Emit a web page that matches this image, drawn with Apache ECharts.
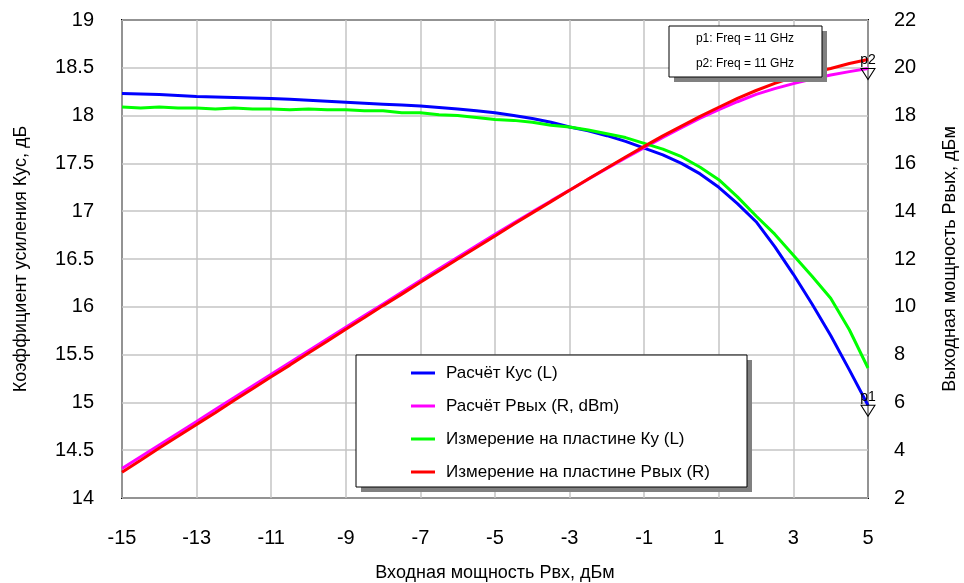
<!DOCTYPE html>
<html>
<head>
<meta charset="utf-8">
<script src="https://cdn.jsdelivr.net/npm/echarts@6/dist/echarts.min.js"></script>
<style>
  html, body { margin: 0; padding: 0; background: #fff; }
  #chart { width: 964px; height: 583px; }
</style>
</head>
<body>
<div id="chart"></div>
<script>
// input power, dBm
const pIn = [-15, -14.5, -14, -13.5, -13, -12.5, -12, -11.5, -11, -10.5, -10, -9.5, -9, -8.5, -8, -7.5, -7, -6.5, -6, -5.5,
  -5, -4.5, -4, -3.5, -3, -2.5, -2, -1.5, -1, -0.5, 0, 0.5, 1, 1.5, 2, 2.5, 3, 3.5, 4, 4.5, 5];

// calculated gain (left axis)
const kCalc = [18.23, 18.225, 18.22, 18.21, 18.2, 18.195, 18.19, 18.185, 18.18, 18.17, 18.16, 18.15, 18.14, 18.13, 18.12, 18.11, 18.1, 18.085, 18.07, 18.05,
  18.03, 18.0, 17.97, 17.93, 17.88, 17.84, 17.79, 17.73, 17.66, 17.59, 17.5, 17.39, 17.25, 17.08, 16.89, 16.63, 16.34, 16.03, 15.7, 15.34, 14.97];

// calculated output power (right axis)
const pCalc = [3.23, 3.73, 4.22, 4.71, 5.2, 5.7, 6.19, 6.69, 7.18, 7.67, 8.16, 8.65, 9.14, 9.63, 10.12, 10.61, 11.1, 11.59, 12.07, 12.55,
  13.03, 13.5, 13.97, 14.43, 14.88, 15.34, 15.79, 16.23, 16.66, 17.09, 17.5, 17.89, 18.25, 18.58, 18.89, 19.13, 19.34, 19.53, 19.7, 19.84, 19.97];

// measured gain (left axis)
const kMeas = [18.09, 18.08, 18.09, 18.08, 18.08, 18.07, 18.08, 18.07, 18.07, 18.06, 18.07, 18.06, 18.06, 18.05, 18.05, 18.03, 18.03, 18.01, 18.0, 17.98,
  17.96, 17.95, 17.93, 17.9, 17.88, 17.85, 17.81, 17.77, 17.71, 17.65, 17.57, 17.46, 17.33, 17.15, 16.95, 16.76, 16.54, 16.32, 16.09, 15.76, 15.36];

// measured output power (right axis)
const pMeas = [3.08, 3.58, 4.09, 4.58, 5.08, 5.57, 6.08, 6.57, 7.07, 7.56, 8.07, 8.56, 9.06, 9.55, 10.05, 10.53, 11.03, 11.51, 12.0, 12.48,
  12.96, 13.45, 13.93, 14.4, 14.88, 15.35, 15.81, 16.27, 16.71, 17.15, 17.56, 17.97, 18.35, 18.72, 19.05, 19.35, 19.6, 19.8, 19.97, 20.18, 20.35];

const names = [
  'Расчёт Кус (L)',
  'Расчёт Рвых (R, dBm)',
  'Измерение на пластине Ку (L)',
  'Измерение на пластине Рвых (R)',
];
const colors = ['#0000ff', '#ff00ff', '#00ff00', '#ff0000'];
const markerText = ['p1: Freq = 11 GHz', 'p2: Freq = 11 GHz'];

const font = "'Liberation Sans', Arial, sans-serif";
const last = pIn.length - 1;

const marker = (label, value) => ({
  symbol: 'path://M0,0 L14,0 L7,11 Z',
  symbolSize: [14, 11],
  symbolOffset: [0, '50%'],
  itemStyle: {
    color: 'rgba(255,255,255,0)',
    borderColor: '#000',
    borderWidth: 1,
  },
  label: {
    show: true,
    position: 'top',
    distance: 1,
    formatter: label,
    color: '#000',
    fontSize: 14,
    fontFamily: font,
  },
  data: [{ coord: [last, value] }],
});

const lineSeries = (i, data, yIdx) => ({
  name: names[i],
  type: 'line',
  yAxisIndex: yIdx,
  data,
  showSymbol: false,
  symbol: 'none',
  color: colors[i],
  lineStyle: { color: colors[i], width: 3 },
  z: 3,
});

const option = {
  animation: false,
  backgroundColor: '#fff',
  textStyle: { fontFamily: font },
  grid: {
    left: 122,
    right: 96,
    top: 20,
    bottom: 85,
    outerBoundsMode: 'none',
    show: true,
    borderColor: '#000',
    borderWidth: 2,
    backgroundColor: 'transparent',
  },
  xAxis: {
    type: 'category',
    data: pIn,
    boundaryGap: false,
    name: 'Входная мощность Рвх, дБм',
    nameLocation: 'middle',
    nameGap: 66,
    nameTextStyle: { fontSize: 18, color: '#000', fontFamily: font },
    axisLine: { show: false },
    axisTick: { show: false },
    axisLabel: { interval: 3, margin: 30, fontSize: 20, color: '#000', fontFamily: font },
    splitLine: { show: true, interval: 3, lineStyle: { color: '#c4c4c4', width: 1.5 } },
  },
  yAxis: [
    {
      type: 'value',
      min: 14,
      max: 19,
      interval: 0.5,
      name: 'Коэффициент усиления Кус, дБ',
      nameLocation: 'middle',
      nameRotate: 90,
      nameGap: 92,
      nameTextStyle: { fontSize: 18, color: '#000', fontFamily: font },
      axisLine: { show: false },
      axisTick: { show: false },
      axisLabel: { margin: 28, fontSize: 20, color: '#000', fontFamily: font, padding: [8, 0, 0, 0] },
      splitLine: { show: true, lineStyle: { color: '#c4c4c4', width: 1.5 } },
    },
    {
      type: 'value',
      position: 'right',
      min: 2,
      max: 22,
      interval: 2,
      name: 'Выходная мощность Рвых, дБм',
      nameLocation: 'middle',
      nameRotate: 90,
      nameGap: 73,
      nameTextStyle: { fontSize: 18, color: '#000', fontFamily: font },
      axisLine: { show: false },
      axisTick: { show: false },
      axisLabel: { margin: 26, fontSize: 20, color: '#000', fontFamily: font, padding: [8, 0, 0, 0] },
      splitLine: { show: false },
    },
  ],
  legend: {
    data: names,
    orient: 'vertical',
    left: 411,
    top: 364,
    padding: 0,
    itemGap: 15,
    itemWidth: 24,
    itemHeight: 3,
    icon: 'rect',
    z: 60,
    textStyle: { fontSize: 17, lineHeight: 18, color: '#000', fontFamily: font, padding: [0, 0, 0, 6] },
  },
  graphic: [
    { type: 'rect', z: 50, shape: { x: 361, y: 360, width: 391, height: 132 }, style: { fill: '#808080' } },
    { type: 'rect', z: 51, shape: { x: 356, y: 355, width: 391, height: 132 }, style: { fill: '#fff', stroke: '#000', lineWidth: 1 } },
    { type: 'rect', z: 50, shape: { x: 674, y: 31, width: 153, height: 51 }, style: { fill: '#808080' } },
    { type: 'rect', z: 51, shape: { x: 669, y: 26, width: 153, height: 51 }, style: { fill: '#fff', stroke: '#000', lineWidth: 1 } },
    {
      type: 'text', z: 52, x: 745, y: 39,
      style: { text: markerText[0], fontSize: 12, fontFamily: font, fill: '#000', align: 'center', verticalAlign: 'middle' },
    },
    {
      type: 'text', z: 52, x: 745, y: 64,
      style: { text: markerText[1], fontSize: 12, fontFamily: font, fill: '#000', align: 'center', verticalAlign: 'middle' },
    },
  ],
  series: [
    { ...lineSeries(0, kCalc, 0), markPoint: marker('p1', kCalc[last]) },
    { ...lineSeries(1, pCalc, 1), markPoint: marker('p2', pCalc[last]) },
    lineSeries(2, kMeas, 0),
    lineSeries(3, pMeas, 1),
  ],
};

const chart = echarts.init(document.getElementById('chart'));
chart.setOption(option);
window.addEventListener('resize', () => chart.resize());
</script>
</body>
</html>
